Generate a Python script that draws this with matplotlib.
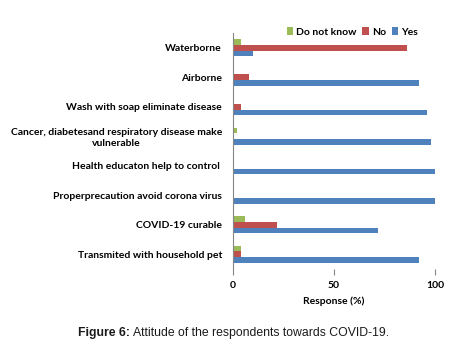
import matplotlib
matplotlib.use("Agg")
import matplotlib.pyplot as plt
import numpy as np

categories = [
    "Waterborne",
    "Airborne",
    "Wash with soap eliminate disease",
    "Cancer, diabetesand respiratory disease make\nvulnerable",
    "Health educaton help to control ",
    "Properprecaution avoid corona virus",
    "COVID-19 curable",
    "Transmited with household pet",
]
dont_know = [4, 0, 0, 2, 0, 0, 6, 4]
no = [86, 8, 4, 0, 0, 0, 22, 4]
yes = [10, 92, 96, 98, 100, 100, 72, 92]
x_ticks = [0, 50, 100]

fig = plt.figure(figsize=(4.69, 3.56), dpi=100)
ax = fig.add_axes([233 / 469, 1 - 269 / 356, (435 - 233) / 469, (269 - 33) / 356])

font = "Lato"
y = np.arange(len(categories))
h = 0.19
ax.barh(y - h, dont_know, height=h, color="#9BBB59", label="Do not know")
ax.barh(y, no, height=h, color="#C0504D", label="No")
ax.barh(y + h, yes, height=h, color="#4F81BD", label="Yes")

ax.set_ylim(len(categories) - 0.5, -0.5)
ax.set_xlim(0, 100)
ax.set_xticks(x_ticks)
ax.set_xticklabels([str(t) for t in x_ticks], fontfamily=font, fontweight="bold", fontsize=7.5)
ax.set_yticks(y)
ax.set_yticklabels(categories, fontfamily=font, fontweight="bold", fontsize=7.5, multialignment="center")
ax.tick_params(axis="y", length=0, pad=8)
ax.tick_params(axis="x", length=4, color="#868686", pad=5)
for s in ["top", "right", "bottom"]:
    ax.spines[s].set_visible(False)
ax.spines["left"].set_color("#868686")
ax.set_xlabel("Response (%)", fontfamily=font, fontweight="bold", fontsize=7.5, labelpad=4)

leg = ax.legend(loc="lower right", bbox_to_anchor=(0.915, 0.985), ncol=3, frameon=False,
                prop={"family": font, "weight": "bold", "size": 7.5},
                handlelength=0.6, handleheight=0.7, handletextpad=0.3, columnspacing=0.55,
                borderaxespad=0, borderpad=0)

# caption: bold prefix followed by regular text
cap_y = 1 - 333 / 356
t1 = fig.text(78 / 469, cap_y, "Figure 6:", fontsize=8.85, family="Liberation Sans",
              fontweight="bold", ha="left", va="center", color="#1a1a1a")
fig.canvas.draw()
bb = t1.get_window_extent(renderer=fig.canvas.get_renderer())
x2 = (bb.x1 + 3) / fig.bbox.width
fig.text(x2, cap_y, "Attitude of the respondents towards COVID-19.", fontsize=8.85,
         family="Liberation Sans", ha="left", va="center", color="#1a1a1a")

fig.savefig("out.png", dpi=100)
